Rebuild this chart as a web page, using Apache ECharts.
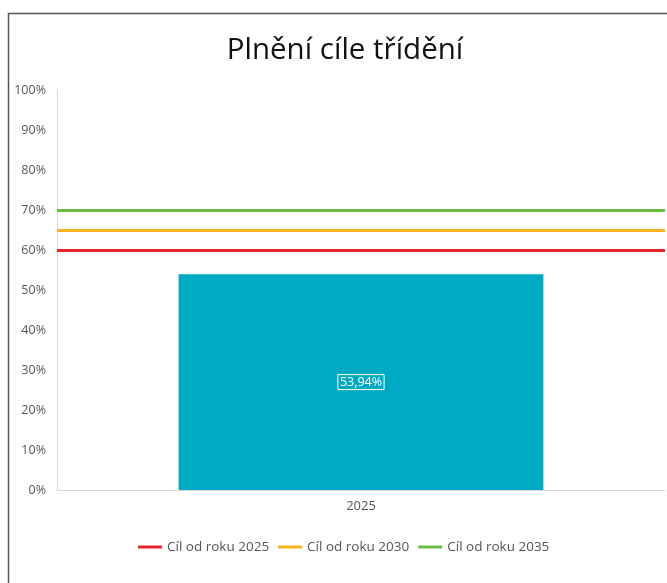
<!DOCTYPE html>
<html>
<head>
<meta charset="utf-8">
<script src="https://cdn.jsdelivr.net/npm/echarts@6/dist/echarts.min.js"></script>
<style>
  html, body { margin: 0; padding: 0; background: #fff; }
  #main { width: 667px; height: 583px; }
</style>
</head>
<body>
<div id="main"></div>
<script>
const categories = ['2025']
const sortingValues = [53.94]
const targetNames = ['Cíl od roku 2025', 'Cíl od roku 2030', 'Cíl od roku 2035']
const targetValues = [60, 65, 70]
const targetColors = ['#e8262c', '#f7b521', '#6bbd45']
const yTicks = [0, 10, 20, 30, 40, 50, 60, 70, 80, 90, 100]

function main() {
  var chart = echarts.init(document.getElementById('main'))

  let targetSeries = targetNames.map((name, i) => ({
    name: name,
    type: 'line',
    data: [],
    color: targetColors[i],
    markLine: {
      silent: true,
      symbol: 'none',
      label: { show: false },
      lineStyle: { color: targetColors[i], width: 3, type: 'solid' },
      data: [{ yAxis: targetValues[i] }]
    }
  }))

  let option = {
    animation: false,
    title: {
      text: 'Plnění cíle třídění',
      left: 340,
      textAlign: 'center',
      top: 31,
      textStyle: { fontFamily: 'Open Sans', fontWeight: 'normal', fontSize: 29.5, color: '#111' }
    },
    graphic: [{
      type: 'rect',
      shape: { x: 8.5, y: 13.5, width: 700, height: 600 },
      style: { fill: 'none', stroke: '#555', lineWidth: 1.5 }
    }],
    legend: {
      data: targetNames,
      left: 133,
      top: 535,
      icon: 'rect',
      itemWidth: 24,
      itemHeight: 3,
      itemGap: 9,
      textStyle: { fontFamily: 'Open Sans', fontSize: 13.5, color: '#555' }
    },
    grid: { left: 57, right: 2, top: 90, bottom: 93 },
    xAxis: {
      type: 'category',
      data: categories,
      axisLine: { lineStyle: { color: '#d9d9d9' } },
      axisTick: { show: false },
      axisLabel: { color: '#555', fontFamily: 'Open Sans', fontSize: 13, margin: 10 }
    },
    yAxis: {
      type: 'value',
      min: yTicks[0],
      max: yTicks[yTicks.length - 1],
      interval: 10,
      axisLine: { show: true, lineStyle: { color: '#d9d9d9' } },
      splitLine: { show: false },
      axisLabel: { formatter: '{value}%', color: '#555', fontFamily: 'Open Sans', fontSize: 12.5, margin: 11 }
    },
    series: [{
      name: 'Plnění',
      type: 'bar',
      data: sortingValues,
      barWidth: '60%',
      itemStyle: { color: '#00aac4' },
      label: {
        show: true,
        position: 'inside',
        formatter: p => p.value.toFixed(2).replace('.', ',') + '%',
        color: '#fff',
        fontFamily: 'Open Sans',
        fontSize: 12.5,
        borderColor: '#fff',
        borderWidth: 1,
        padding: [1, 2]
      }
    }, ...targetSeries]
  }

  chart.setOption(option)
}

main()
</script>
</body>
</html>
